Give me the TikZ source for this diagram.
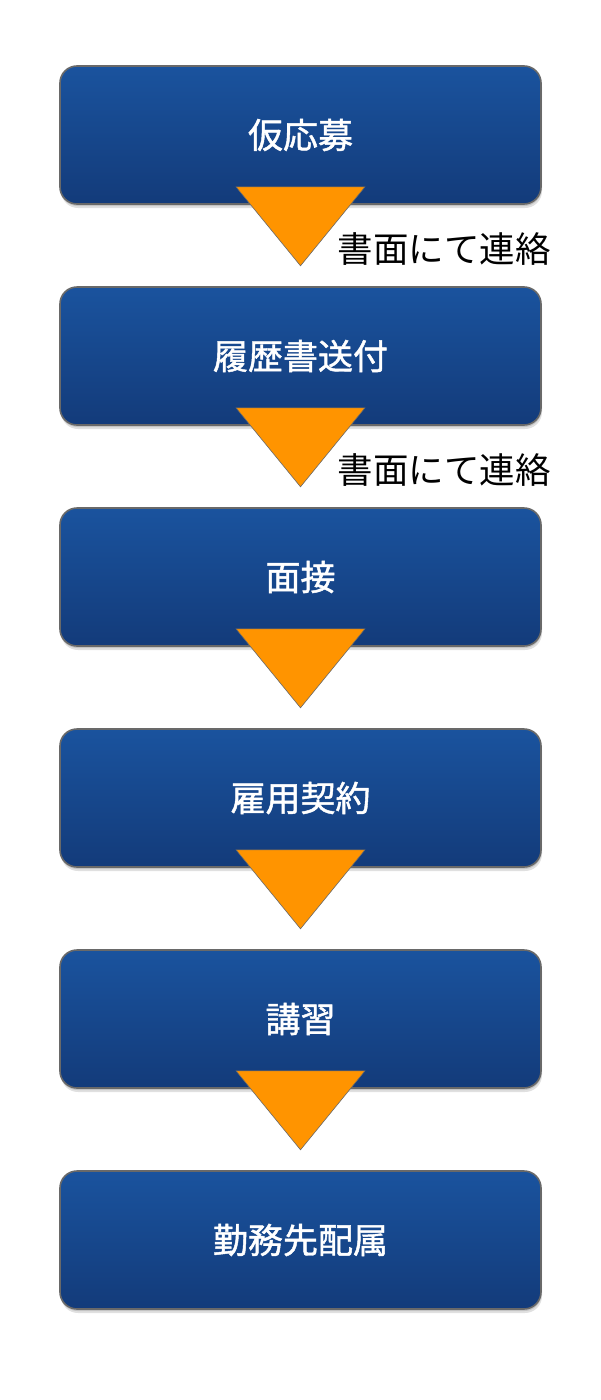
\documentclass[tikz,border=0pt]{standalone}
\usepackage{fontspec}
\newfontfamily\jp{Noto Sans CJK JP}
\newfontfamily\jpm[FakeBold=1.3]{Noto Sans CJK JP}
\usetikzlibrary{shadows,calc}
\definecolor{boxtop}{RGB}{26,83,158}
\definecolor{boxbot}{RGB}{19,59,122}
\definecolor{boxedge}{RGB}{105,105,105}
\definecolor{arrowfill}{RGB}{255,148,0}
\tikzset{
  stepbox/.style={draw=boxedge, line width=1.6pt, rounded corners=17pt,
    top color=boxtop, bottom color=boxbot,
    minimum width=481pt, minimum height=138pt, inner sep=0pt,
    text=white, font=\jpm\fontsize{35pt}{38pt}\selectfont,
    drop shadow={shadow xshift=1pt, shadow yshift=-4pt, opacity=0.12, fill=black},
    drop shadow={shadow xshift=0.5pt, shadow yshift=-2pt, opacity=0.12, fill=black}},
  downtri/.style={fill=arrowfill, draw=boxedge, line width=0.6pt, line join=miter},
  note/.style={anchor=west, inner sep=0pt, text=black, font=\jp\fontsize{35.5pt}{38pt}\selectfont}
}
\begin{document}
\begin{tikzpicture}[x=1pt,y=-1pt]
\useasboundingbox (0,0) rectangle (600,1400);
\fill[white] (0,0) rectangle (600,1400);
\node[stepbox] (b1) at (300.5,135) {仮応募};
\node[stepbox] (b2) at (300.5,356) {履歴書送付};
\node[stepbox] (b3) at (300.5,577) {面接};
\node[stepbox] (b4) at (300.5,798) {雇用契約};
\node[stepbox] (b5) at (300.5,1019) {講習};
\node[stepbox] (b6) at (300.5,1240) {勤務先配属};
\foreach \i in {1,...,5}{
  \draw[downtri] ($(b\i.south)+(-64.5,-18)$) -- ($(b\i.south)+(64.5,-18)$) -- ($(b\i.south)+(0,61)$) -- cycle;
}
\node[note] (n1) at ($(b1.south)+(37,44)$) {書面にて連絡};
\node[note] (n2) at ($(b2.south)+(37,44)$) {書面にて連絡};
\end{tikzpicture}
\end{document}
